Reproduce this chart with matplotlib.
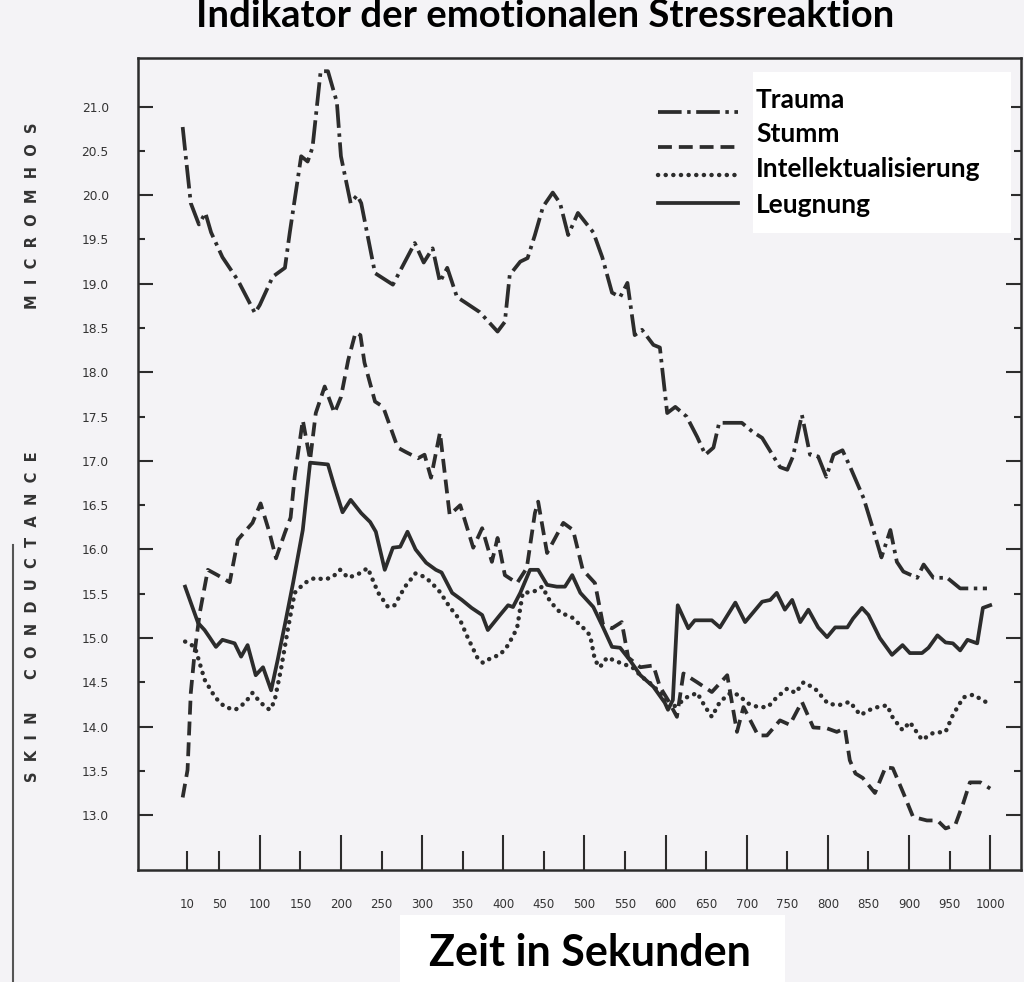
import matplotlib
matplotlib.use('Agg')
import matplotlib.pyplot as plt
from matplotlib.lines import Line2D
from matplotlib.patches import Rectangle

plt.rcParams['lines.scale_dashes'] = False

# time in seconds / skin conductance (micromhos)
trauma_t = [5, 9, 15, 25, 33, 40, 54, 73, 94, 100, 116, 131, 137, 151, 159, 165, 175, 184, 195, 200,
            212, 220, 225, 242, 264, 291, 302, 313, 322, 331, 343, 353, 371, 393, 402, 408, 421, 430, 439, 449,
            461, 470, 480, 492, 511, 522, 534, 544, 553, 562, 571, 585, 593, 602, 612, 626, 639, 649, 659, 666,
            679, 694, 707, 719, 741, 750, 757, 768, 778, 788, 798, 807, 818, 828, 844, 856, 866, 877, 885, 893,
            910, 918, 930, 947, 963, 996]
trauma_v = [20.77, 20.42, 19.91, 19.67, 19.80, 19.58, 19.30, 19.04, 18.67, 18.76, 19.08, 19.18, 19.58, 20.44, 20.38, 20.54, 21.40, 21.40, 21.05, 20.44,
            19.91, 20.00, 19.91, 19.12, 18.99, 19.46, 19.24, 19.40, 19.02, 19.18, 18.85, 18.79, 18.68, 18.46, 18.57, 19.10, 19.25, 19.29, 19.55, 19.87,
            20.03, 19.91, 19.55, 19.80, 19.58, 19.30, 18.90, 18.85, 19.01, 18.42, 18.48, 18.31, 18.28, 17.54, 17.61, 17.50, 17.27, 17.07, 17.15, 17.43,
            17.43, 17.43, 17.33, 17.26, 16.93, 16.90, 17.05, 17.52, 17.07, 17.05, 16.82, 17.07, 17.12, 16.92, 16.58, 16.22, 15.91, 16.22, 15.86, 15.75,
            15.68, 15.83, 15.68, 15.68, 15.56, 15.56]

stumm_t = [5, 11, 15, 20, 26, 36, 48, 63, 73, 91, 101, 112, 120, 131, 138, 143, 153, 162, 169, 180,
           192, 200, 209, 218, 224, 229, 242, 252, 270, 280, 295, 303, 311, 322, 334, 347, 363, 374, 386, 393,
           402, 417, 429, 439, 443, 454, 474, 486, 498, 513, 523, 534, 546, 554, 569, 585, 593, 603, 614, 622,
           639, 657, 676, 688, 696, 714, 725, 741, 753, 768, 782, 799, 811, 821, 827, 834, 843, 858, 871, 880,
           893, 905, 922, 935, 945, 957, 967, 975, 988, 1000]
stumm_v = [13.20, 13.51, 14.38, 14.86, 15.28, 15.77, 15.71, 15.63, 16.11, 16.30, 16.52, 16.19, 15.90, 16.19, 16.36, 16.82, 17.46, 17.01, 17.54, 17.84,
           17.54, 17.72, 18.14, 18.45, 18.42, 18.11, 17.67, 17.61, 17.15, 17.10, 17.03, 17.07, 16.81, 17.32, 16.39, 16.50, 16.02, 16.24, 15.86, 16.13,
           15.71, 15.62, 15.79, 16.41, 16.54, 15.96, 16.30, 16.22, 15.77, 15.62, 15.15, 15.11, 15.18, 14.78, 14.67, 14.69, 14.45, 14.30, 14.11, 14.60,
           14.50, 14.39, 14.58, 13.94, 14.22, 13.90, 13.90, 14.07, 14.02, 14.28, 13.99, 13.98, 13.94, 13.98, 13.62, 13.47, 13.42, 13.25, 13.54, 13.53,
           13.25, 12.98, 12.94, 12.94, 12.85, 12.89, 13.14, 13.37, 13.37, 13.30]

intel_t = [8, 20, 32, 45, 57, 70, 82, 91, 101, 112, 118, 126, 135, 143, 155, 168, 180, 190, 199, 209,
           223, 233, 246, 258, 266, 279, 292, 303, 311, 322, 334, 347, 356, 368, 375, 386, 396, 406, 417, 424,
           437, 448, 458, 470, 485, 498, 507, 513, 519, 528, 544, 559, 571, 581, 596, 603, 614, 626, 639, 649,
           657, 667, 680, 689, 702, 714, 726, 737, 750, 760, 770, 784, 800, 813, 827, 840, 856, 873, 880, 892,
           901, 916, 930, 945, 954, 967, 979, 998]
intel_v = [14.96, 14.90, 14.53, 14.33, 14.22, 14.19, 14.27, 14.38, 14.27, 14.19, 14.28, 14.64, 15.12, 15.51, 15.62, 15.68, 15.66, 15.69, 15.77, 15.68,
           15.73, 15.79, 15.51, 15.35, 15.37, 15.58, 15.73, 15.69, 15.63, 15.52, 15.35, 15.20, 15.01, 14.78, 14.72, 14.78, 14.81, 14.92, 15.11, 15.51,
           15.52, 15.58, 15.41, 15.29, 15.23, 15.12, 15.03, 14.75, 14.67, 14.78, 14.72, 14.67, 14.56, 14.49, 14.36, 14.21, 14.24, 14.33, 14.38, 14.22,
           14.11, 14.28, 14.38, 14.36, 14.26, 14.22, 14.22, 14.33, 14.43, 14.38, 14.50, 14.43, 14.26, 14.24, 14.28, 14.13, 14.21, 14.24, 14.10, 13.96,
           14.05, 13.85, 13.93, 13.94, 14.13, 14.33, 14.36, 14.26]

leug_t = [8, 15, 24, 32, 38, 46, 54, 69, 77, 85, 95, 104, 114, 122, 132, 141, 153, 162, 184, 192,
          202, 212, 225, 236, 243, 254, 264, 273, 282, 292, 305, 317, 324, 337, 349, 361, 374, 381, 396, 406,
          412, 421, 433, 443, 454, 466, 476, 485, 495, 511, 523, 534, 544, 556, 569, 585, 599, 603, 609, 615,
          628, 636, 657, 667, 686, 698, 719, 729, 737, 747, 756, 766, 776, 788, 799, 809, 824, 831, 842, 850,
          864, 879, 892, 901, 916, 924, 935, 945, 954, 963, 972, 984, 991, 1000]
leug_v = [15.58, 15.40, 15.17, 15.09, 15.01, 14.90, 14.98, 14.94, 14.79, 14.92, 14.58, 14.67, 14.41, 14.75, 15.20, 15.62, 16.22, 16.98, 16.96, 16.71,
          16.42, 16.56, 16.41, 16.31, 16.20, 15.77, 16.02, 16.03, 16.20, 16.00, 15.85, 15.77, 15.74, 15.51, 15.43, 15.34, 15.26, 15.09, 15.26, 15.37,
          15.35, 15.51, 15.77, 15.77, 15.60, 15.58, 15.58, 15.71, 15.51, 15.35, 15.12, 14.90, 14.89, 14.75, 14.58, 14.45, 14.27, 14.19, 14.30, 15.37,
          15.11, 15.20, 15.20, 15.12, 15.40, 15.18, 15.41, 15.43, 15.51, 15.32, 15.43, 15.18, 15.32, 15.12, 15.01, 15.12, 15.12, 15.22, 15.34, 15.26,
          15.00, 14.81, 14.92, 14.83, 14.83, 14.89, 15.03, 14.95, 14.94, 14.86, 14.98, 14.94, 15.34, 15.37]

x_ticks = [10, 50, 100, 150, 200, 250, 300, 350, 400, 450, 500, 550, 600, 650, 700, 750, 800, 850, 900, 950, 1000]
y_major = [13, 14, 15, 16, 17, 18, 19, 20, 21]
y_minor = [13.5, 14.5, 15.5, 16.5, 17.5, 18.5, 19.5, 20.5]

labels = ['Trauma', 'Stumm', 'Intellektualisierung', 'Leugnung']

bg = '#f4f3f6'
ink = '#2c2c2c'
styles = [dict(dashes=(17, 4, 2.5, 4), lw=2.7),
          dict(dashes=(10, 5), lw=2.7),
          dict(dashes=(0.1, 5.4), dash_capstyle='round', lw=3.2),
          dict(linestyle='-', lw=2.7)]

fig = plt.figure(figsize=(10.24, 9.82), dpi=100, facecolor=bg)
ax = fig.add_axes([0.1348, 0.114, 0.8623, 0.827])
ax.set_facecolor(bg)

series = [(trauma_t, trauma_v), (stumm_t, stumm_v), (intel_t, intel_v), (leug_t, leug_v)]
for (t, v), st in zip(series, styles):
    ax.plot(t, v, color=ink, **st)

ax.set_xlim(-50, 1038)
ax.set_ylim(12.38, 21.55)

for s in ax.spines.values():
    s.set_color(ink)
    s.set_linewidth(1.8)

# x ticks: long at the hundreds, short otherwise (pointing into the plot)
ax.set_xticks([t for t in x_ticks if t % 100 == 0 and t >= 100])
ax.set_xticks([t for t in x_ticks if not (t % 100 == 0 and t >= 100)], minor=True)
ax.tick_params(axis='x', which='major', direction='in', length=25, width=1.5, color=ink)
ax.tick_params(axis='x', which='minor', direction='in', length=14, width=1.5, color=ink)
ax.set_xticklabels([])
for t in x_ticks:
    ax.text(t, -0.042, str(t), transform=ax.get_xaxis_transform(), ha='center', va='center',
            fontsize=8.5, color='#333333')

ax.set_yticks(y_major)
ax.set_yticks(y_minor, minor=True)
ax.set_yticklabels(['%.1f' % v for v in y_major])
ax.set_yticklabels(['%.1f' % v for v in y_minor], minor=True)
ax.tick_params(axis='y', which='both', direction='in', right=True, color=ink, width=1.5,
               labelsize=8.8, labelcolor='#333333', pad=21)
ax.tick_params(axis='y', which='major', length=11)
ax.tick_params(axis='y', which='minor', length=5)

# spaced y label
for word, yv in [('SKIN', 13.77), ('CONDUCTANCE', 15.82), ('MICROMHOS', 19.77)]:
    ax.text(-0.119, yv, '  '.join(word), transform=ax.get_yaxis_transform(), rotation=90,
            ha='center', va='center', fontsize=10.5, fontweight='bold', color='#333333')

# legend drawn by hand: line samples on the paper, names in a white box
leg_y = [1 - 112 / 982, 1 - 147 / 982, 1 - 175 / 982, 1 - 203 / 982]
txt_y = [1 - 100 / 982, 1 - 134 / 982, 1 - 169 / 982, 1 - 205 / 982]
fig.add_artist(Rectangle((753 / 1024, 1 - 233 / 982), 258 / 1024, 161 / 982,
                         transform=fig.transFigure, facecolor='white', edgecolor='none'))
for lab, ly, ty, st in zip(labels, leg_y, txt_y, styles):
    fig.add_artist(Line2D([658 / 1024, 738 / 1024], [ly, ly], transform=fig.transFigure,
                          color=ink, **st))
    fig.text(756 / 1024, ty, lab, ha='left', va='center', fontsize=19,
             fontfamily='Lato', fontweight='bold', color='black')

# title at the top edge
fig.text(545 / 1024, 1 - 27 / 982, 'Indikator der emotionalen Stressreaktion', ha='center',
         va='baseline', fontsize=27.5, fontfamily='Lato', fontweight='bold', color='black')

# x label on a white patch
fig.add_artist(Rectangle((400 / 1024, 0), 385 / 1024, 67 / 982, transform=fig.transFigure,
                         facecolor='white', edgecolor='none'))
fig.text(590 / 1024, 1 - 966 / 982, 'Zeit in Sekunden', ha='center', va='baseline',
         fontsize=31, fontfamily='Lato', fontweight='bold', color='black')

# dark scan edge at the lower left
fig.add_artist(Line2D([13 / 1024, 13 / 1024], [0, 1 - 545 / 982], transform=fig.transFigure,
                      color='#555555', lw=1.5))

fig.savefig('out.png', dpi=100, facecolor=bg)
